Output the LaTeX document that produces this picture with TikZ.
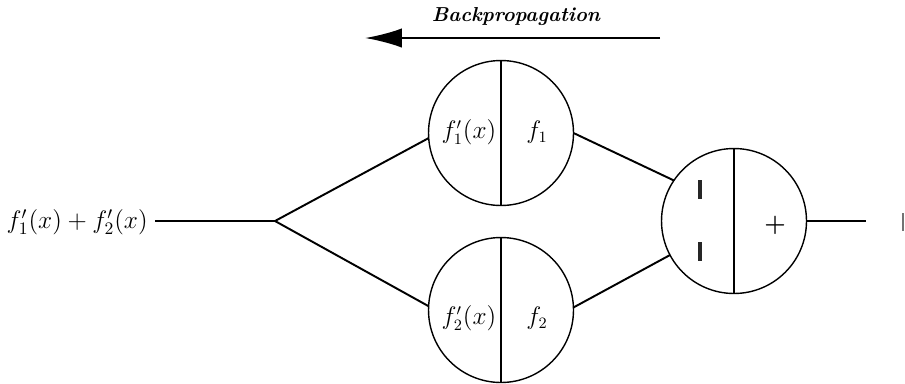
\documentclass[tikz,border=0pt]{standalone}
\usetikzlibrary{arrows.meta}
\begin{document}
\begin{tikzpicture}[x=0.02cm,y=-0.02cm,
  unit/.style={circle,draw,line width=0.8pt,inner sep=0pt,outer sep=0pt,minimum size=2.9cm},
  wire/.style={line width=1.1pt},
  divider/.style={line width=1.1pt},
  lbl/.style={inner sep=0pt,font=\fontsize{13.5}{16}\selectfont},
  minusbar/.style={line width=2.2pt,black!85}]
\useasboundingbox (0,0) rectangle (905,383);
% circles
\node[unit] (c1) at (501,133) {};
\node[unit] (c2) at (501,310) {};
\node[unit] (c3) at (734,221) {};
\draw[divider] (c1.north) -- (c1.south);
\draw[divider] (c2.north) -- (c2.south);
\draw[divider] (c3.north) -- (c3.south);
% labels in circles
\node[lbl] (l1a) at (469,132) {$f_1'(x)$};
\node[lbl] (l1b) at (537,132) {$f_1$};
\node[lbl] (l2a) at (469,318) {$f_2'(x)$};
\node[lbl] (l2b) at (537,318) {$f_2$};
\node[lbl,font=\fontsize{14}{16}\selectfont\bfseries] (plus) at (775,225) {+};
\coordinate (m1t) at (700,180); \coordinate (m1b) at (700,199);
\coordinate (m2t) at (700,242); \coordinate (m2b) at (700,261);
\draw[minusbar] (m1t) -- (m1b);
\draw[minusbar] (m2t) -- (m2b);
% left label and junction
\node[inner sep=0pt,font=\fontsize{14}{16}\selectfont,anchor=east] (in) at (148,222) {$f_1'(x)+f_2'(x)$};
\coordinate (j) at (275,221);
\coordinate (inl) at (155,221);
\draw[wire] (inl) -- (j);
\draw[wire] (j) -- (c1.184);
\draw[wire] (j) -- (c2.177);
\draw[wire] (c1.0) -- (c3.146);
\draw[wire] (c2.2) -- (c3.208);
\coordinate (out) at (866,221);
\draw[wire] (c3.east) -- (out);
% cut-off glyph at the right edge
\coordinate (g1) at (903,213); \coordinate (g2) at (903,231);
\draw[line width=1pt,black!55] (g1) -- (g2);
% backpropagation arrow
\coordinate (bpa) at (660,38);
\coordinate (bpb) at (365,38);
\draw[line width=1.3pt,-{Latex[length=21pt,width=11pt]}] (bpa) -- (bpb);
\node[inner sep=0pt,font=\fontsize{11.5}{13}\itshape\bfseries] (bp) at (516,17) {Backpropagation};
\end{tikzpicture}
\end{document}
